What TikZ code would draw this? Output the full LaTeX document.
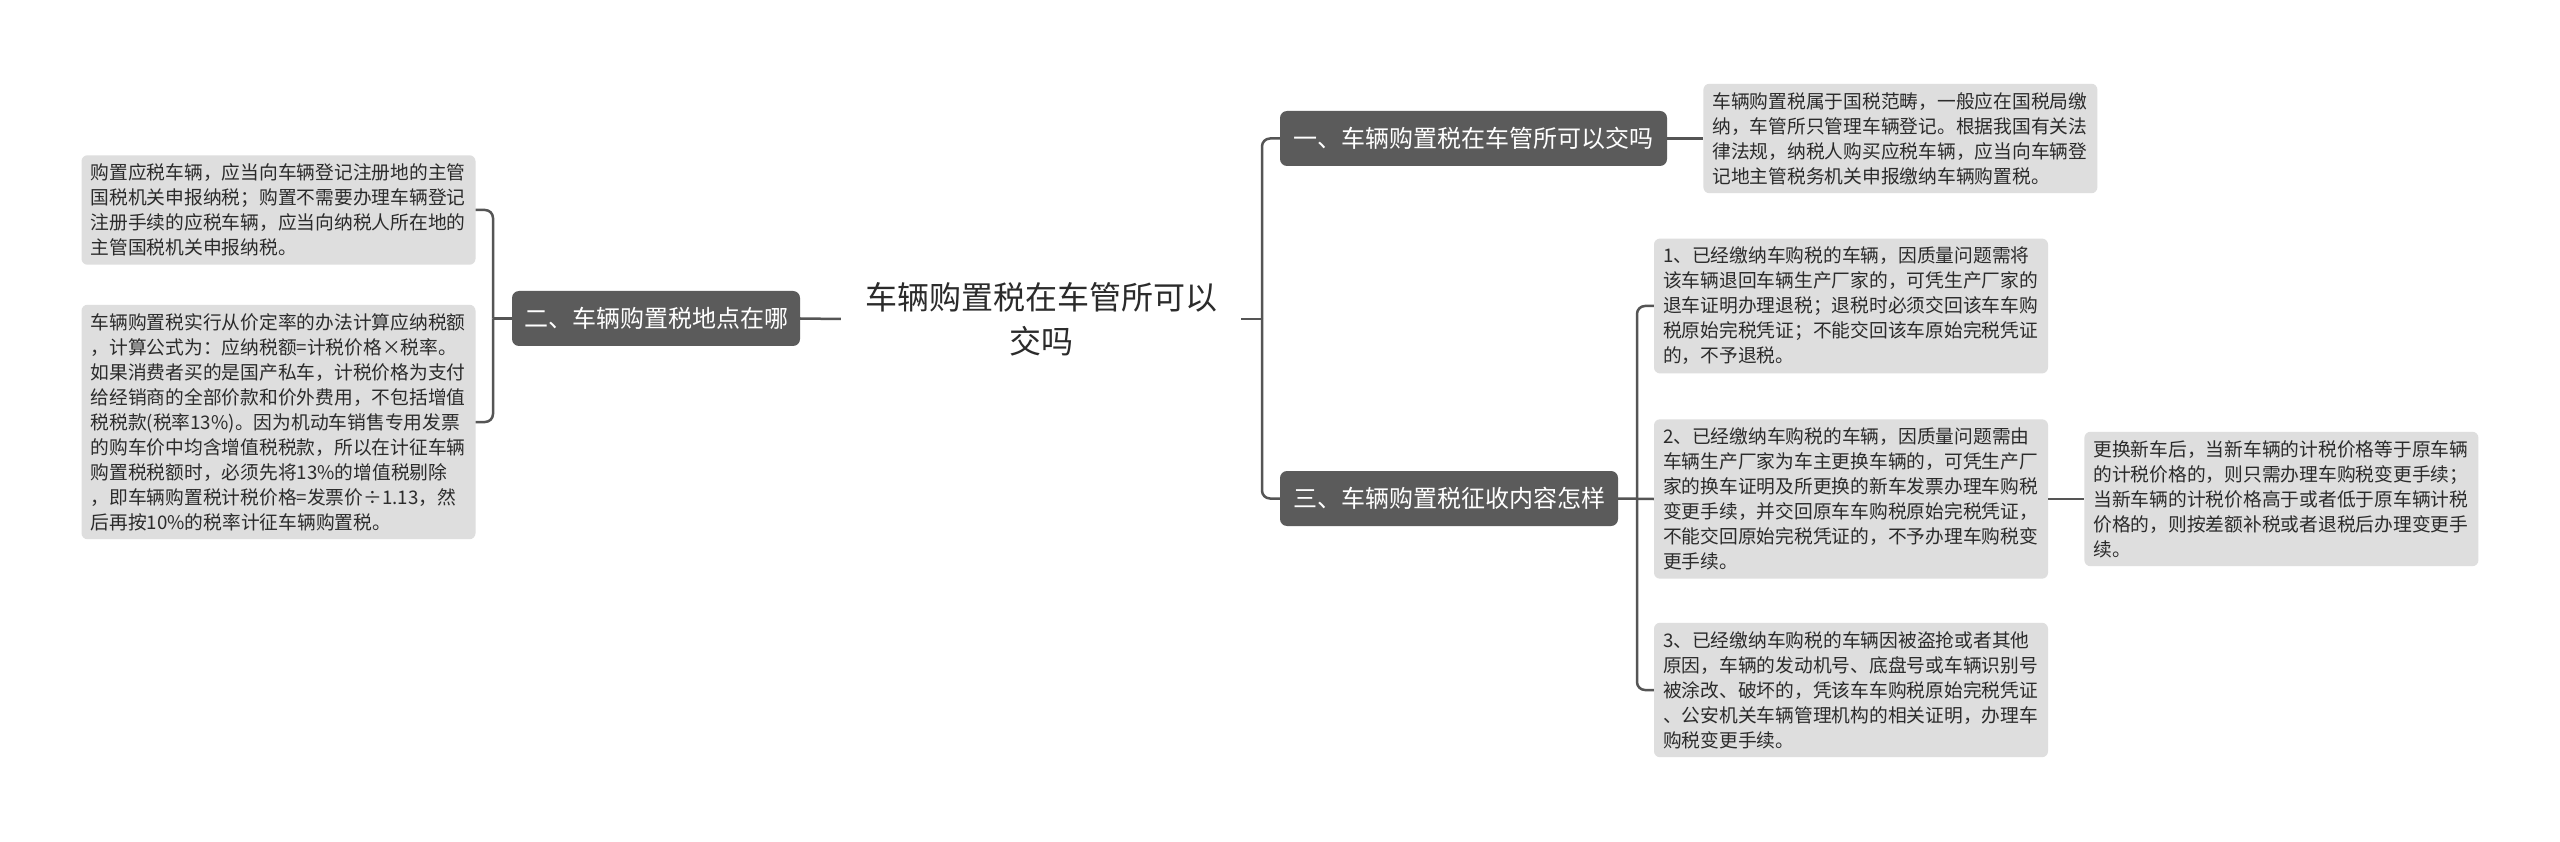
\documentclass[tikz,border=0pt]{standalone}
\usepackage{fontspec}
\setmainfont{Noto Sans CJK SC}
\usepackage{xcolor}
\usetikzlibrary{positioning}

\definecolor{branchgray}{HTML}{5B5B5B}
\definecolor{leafgray}{HTML}{DEDEDE}
\definecolor{linkgray}{HTML}{555555}
\definecolor{textgray}{HTML}{2B2B2B}

\begin{document}
\begin{tikzpicture}[
    x=1pt, y=-1pt,
    topic/.style={inner xsep=24pt, inner ysep=4pt, align=center, text=textgray, font=\fontsize{32}{44}\selectfont},
    branch/.style={rectangle, rounded corners=7pt, fill=branchgray, text=white, minimum height=55pt, inner xsep=0pt, font=\fontsize{24}{30}\selectfont},
    leaf/.style={rectangle, rounded corners=6pt, fill=leafgray, text=textgray, text width=376pt, inner xsep=9pt, inner ysep=8.5pt, align=left, font=\fontsize{18.75}{25}\selectfont},
    link/.style={draw=linkgray, line width=2.5pt, rounded corners=8pt}
]
    \useasboundingbox[fill=white] (0,0) rectangle (2560,842);

    % Nodes
    \node[topic] (root) at (1041,319) {车辆购置税在车管所可以\\交吗};

    \node[branch, minimum width=387pt] (pay) at (1473.5,138.5) {一、车辆购置税在车管所可以交吗};
    \node[branch, minimum width=288pt] (place) at (656,318.5) {二、车辆购置税地点在哪};
    \node[branch, minimum width=338pt] (levy) at (1449,498.5) {三、车辆购置税征收内容怎样};

    \node[leaf, right=36pt of pay] (payinfo) {车辆购置税属于国税范畴，一般应在国税局缴\\纳，车管所只管理车辆登记。根据我国有关法\\律法规，纳税人购买应税车辆，应当向车辆登\\记地主管税务机关申报缴纳车辆购置税。};

    \node[leaf] (placereg) at (278.5,210) {购置应税车辆，应当向车辆登记注册地的主管\\国税机关申报纳税；购置不需要办理车辆登记\\注册手续的应税车辆，应当向纳税人所在地的\\主管国税机关申报纳税。};
    \node[leaf] (placecalc) at (278.5,422) {车辆购置税实行从价定率的办法计算应纳税额\\，计算公式为：应纳税额=计税价格×税率。\\如果消费者买的是国产私车，计税价格为支付\\给经销商的全部价款和价外费用，不包括增值\\税税款(税率13\%)。因为机动车销售专用发票\\的购车价中均含增值税税款，所以在计征车辆\\购置税税额时，必须先将13\%的增值税剔除\\，即车辆购置税计税价格=发票价÷1.13，然\\后再按10\%的税率计征车辆购置税。};

    \node[leaf] (refund) at (1851,306) {1、已经缴纳车购税的车辆，因质量问题需将\\该车辆退回车辆生产厂家的，可凭生产厂家的\\退车证明办理退税；退税时必须交回该车车购\\税原始完税凭证；不能交回该车原始完税凭证\\的，不予退税。};
    \node[leaf] (swap) at (1851,499) {2、已经缴纳车购税的车辆，因质量问题需由\\车辆生产厂家为车主更换车辆的，可凭生产厂\\家的换车证明及所更换的新车发票办理车购税\\变更手续，并交回原车车购税原始完税凭证，\\不能交回原始完税凭证的，不予办理车购税变\\更手续。};
    \node[leaf] (stolen) at (1851,690) {3、已经缴纳车购税的车辆因被盗抢或者其他\\原因，车辆的发动机号、底盘号或车辆识别号\\被涂改、破坏的，凭该车车购税原始完税凭证\\、公安机关车辆管理机构的相关证明，办理车\\购税变更手续。};
    \node[leaf, right=36pt of swap] (swapprice) {更换新车后，当新车辆的计税价格等于原车辆\\的计税价格的，则只需办理车购税变更手续；\\当新车辆的计税价格高于或者低于原车辆计税\\价格的，则按差额补税或者退税后办理变更手\\续。};

    % Junctions
    \coordinate (rbar) at (1262,319);
    \coordinate (lbar) at (493,318.5);
    \coordinate (sbar) at (1637,498.5);

    % Links
    \draw[link] (root.east) -- (rbar);
    \draw[link] (rbar) |- (pay.west);
    \draw[link] (rbar) |- (levy.west);
    \draw[link] (root.west) -- (place.east);
    \draw[link] (place.west) -- (lbar);
    \draw[link] (lbar) |- (placereg.east);
    \draw[link] (lbar) |- (placecalc.east);
    \draw[link] (pay.east) -- (payinfo.west);
    \draw[link] (levy.east) -- (swap.west);
    \draw[link] (sbar) |- (refund.west);
    \draw[link] (sbar) |- (stolen.west);
    \draw[link] (swap.east) -- (swapprice.west);
\end{tikzpicture}
\end{document}
